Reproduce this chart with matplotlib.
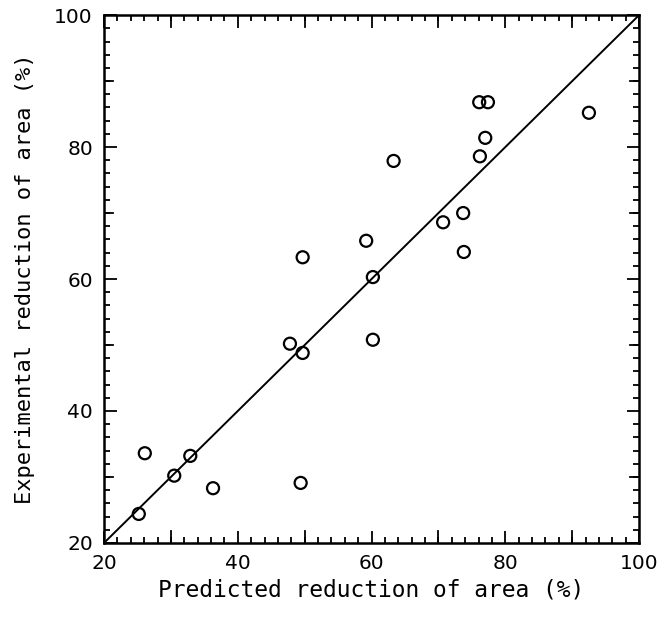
import numpy as np
import matplotlib
matplotlib.use("Agg")
import matplotlib.pyplot as plt
from matplotlib.ticker import MultipleLocator

# predicted vs experimental reduction of area (%)
predicted = [25.2, 26.1, 30.5, 32.9, 36.3, 47.8, 49.7, 49.4, 49.7, 59.2,
             60.2, 60.2, 63.3, 70.7, 73.7, 73.8, 76.2, 76.1, 77.4, 77.0, 92.5]
experimental = [24.4, 33.6, 30.2, 33.2, 28.3, 50.2, 48.8, 29.1, 63.3, 65.8,
                60.3, 50.8, 77.9, 68.6, 70.0, 64.1, 78.6, 86.8, 86.8, 81.4, 85.2]
ticks = [20, 40, 60, 80, 100]

plt.rcParams['font.family'] = ['DejaVu Sans Mono']

fig = plt.figure(figsize=(6.68, 6.17), dpi=100)
ax = fig.add_axes([0.1557, 0.12, 0.801, 0.8555])

ax.plot([20, 100], [20, 100], color='black', lw=1.4)
ax.scatter(predicted, experimental, s=75, facecolors='none',
           edgecolors='black', linewidths=1.6, zorder=3)

ax.set_xlim(20, 100)
ax.set_ylim(20, 100)
ax.set_xticks(ticks)
ax.set_yticks(ticks)
ax.xaxis.set_minor_locator(MultipleLocator(2))
ax.yaxis.set_minor_locator(MultipleLocator(2))

ax.tick_params(which='both', direction='in', top=True, right=True,
               width=1.3, colors='black')
ax.tick_params(which='major', length=9, labelsize=14.5, pad=8)
ax.tick_params(which='minor', length=4.5)
for lab in ax.get_xticklabels() + ax.get_yticklabels():
    lab.set_family('DejaVu Sans')

# medium ticks every 10 units
for v in range(30, 100, 20):
    ax.axvline(v, ymin=0, ymax=0.022, color='black', lw=1.3)
    ax.axvline(v, ymin=0.978, ymax=1, color='black', lw=1.3)
    ax.axhline(v, xmin=0, xmax=0.017, color='black', lw=1.3)
    ax.axhline(v, xmin=0.983, xmax=1, color='black', lw=1.3)

for s in ax.spines.values():
    s.set_linewidth(1.8)

ax.set_xlabel("Predicted reduction of area (%)", fontsize=16.5, labelpad=4)
ax.set_ylabel("Experimental reduction of area (%)", fontsize=15.8, labelpad=14)

fig.savefig("out.png", dpi=100)
